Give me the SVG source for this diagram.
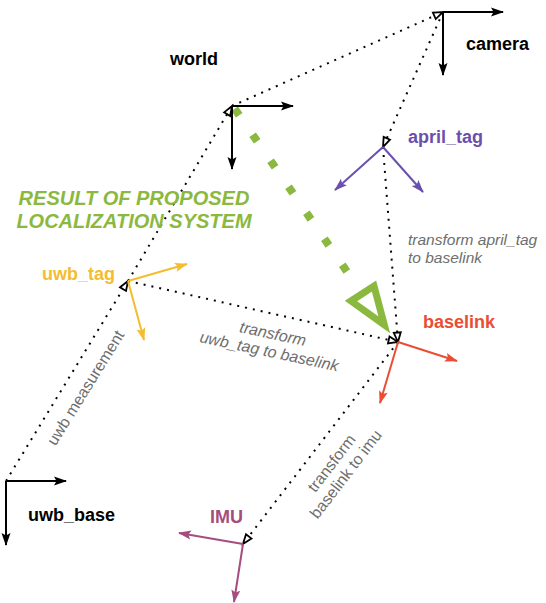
<svg xmlns="http://www.w3.org/2000/svg" width="546" height="603" viewBox="0 0 546 603">
<style>
text{font-family:"Liberation Sans",Arial,sans-serif}
.lbl{font-size:18px;font-weight:bold}
.note{font-size:15.5px;fill:#6e6e6e}
.rot{font-size:16px}
.it{font-style:italic}
.tf{stroke:#000;stroke-width:2;stroke-dasharray:2 6;fill:none;marker-end:url(#open)}
.ax{stroke-width:2;fill:none}
</style>
<defs>
<marker id="open" markerUnits="userSpaceOnUse" markerWidth="14" markerHeight="12" refX="10.5" refY="4.5" orient="auto" overflow="visible">
<path d="M1,1 L10.5,4.5 L1,8 z" fill="#fff" stroke="#000" stroke-width="1.8"/>
</marker>
<marker id="aK" markerUnits="userSpaceOnUse" markerWidth="14" markerHeight="10" refX="12" refY="4.5" orient="auto" overflow="visible"><path d="M0,0 L13,4.5 L0,9 L2.5,4.5 z" fill="#000"/></marker>
<marker id="aP" markerUnits="userSpaceOnUse" markerWidth="14" markerHeight="10" refX="12" refY="4.5" orient="auto" overflow="visible"><path d="M0,0 L13,4.5 L0,9 L2.5,4.5 z" fill="#6a50ae"/></marker>
<marker id="aR" markerUnits="userSpaceOnUse" markerWidth="14" markerHeight="10" refX="12" refY="4.5" orient="auto" overflow="visible"><path d="M0,0 L13,4.5 L0,9 L2.5,4.5 z" fill="#e94e34"/></marker>
<marker id="aY" markerUnits="userSpaceOnUse" markerWidth="14" markerHeight="10" refX="12" refY="4.5" orient="auto" overflow="visible"><path d="M0,0 L13,4.5 L0,9 L2.5,4.5 z" fill="#f4bc2f"/></marker>
<marker id="aM" markerUnits="userSpaceOnUse" markerWidth="14" markerHeight="10" refX="12" refY="4.5" orient="auto" overflow="visible"><path d="M0,0 L13,4.5 L0,9 L2.5,4.5 z" fill="#a64d7f"/></marker>
</defs>
<rect width="546" height="603" fill="#fff"/>

<g id="connectors">
<line class="tf" x1="232" y1="106" x2="443" y2="12"/>
<line class="tf" x1="128" y1="281" x2="232" y2="106"/>
<line class="tf" x1="443" y1="12" x2="383" y2="147"/>
<line class="tf" x1="383" y1="147" x2="398" y2="342"/>
<line class="tf" x1="128" y1="281" x2="398" y2="342"/>
<line class="tf" x1="398" y1="342" x2="243" y2="544"/>
<line class="tf" x1="6" y1="481" x2="128" y2="281"/>
<path d="M234.7,108.7 L350,276" stroke="#8bb940" stroke-width="8" stroke-dasharray="8 23.6" fill="none"/>
<path d="M384.3,324.8 L351,301 L374,286 z" stroke="#8bb940" stroke-width="7" fill="none" stroke-linejoin="miter"/>
</g>

<g id="world">
<line class="ax" stroke="#000" x1="232" y1="106" x2="293" y2="106" marker-end="url(#aK)"/>
<line class="ax" stroke="#000" x1="232" y1="106" x2="232" y2="169" marker-end="url(#aK)"/>
<text class="lbl" x="170" y="65">world</text>
</g>

<g id="camera">
<line class="ax" stroke="#000" x1="443" y1="12" x2="503" y2="12" marker-end="url(#aK)"/>
<line class="ax" stroke="#000" x1="443" y1="12" x2="443" y2="75" marker-end="url(#aK)"/>
<text class="lbl" x="466" y="50">camera</text>
</g>

<g id="april_tag">
<line class="ax" stroke="#6a50ae" x1="383" y1="147" x2="335" y2="190" marker-end="url(#aP)"/>
<line class="ax" stroke="#6a50ae" x1="383" y1="147" x2="423" y2="192" marker-end="url(#aP)"/>
<text class="lbl" x="408" y="143" fill="#6a50ae">april_tag</text>
</g>

<g id="baselink">
<line class="ax" stroke="#e94e34" x1="398" y1="342" x2="457" y2="361" marker-end="url(#aR)"/>
<line class="ax" stroke="#e94e34" x1="398" y1="342" x2="380" y2="403" marker-end="url(#aR)"/>
<text class="lbl" x="423" y="328" fill="#e94e34">baselink</text>
</g>

<g id="uwb_tag">
<line class="ax" stroke="#f4bc2f" x1="128" y1="281" x2="187" y2="264" marker-end="url(#aY)"/>
<line class="ax" stroke="#f4bc2f" x1="128" y1="281" x2="144" y2="340" marker-end="url(#aY)"/>
<text class="lbl" x="42" y="280" fill="#f4bc2f">uwb_tag</text>
</g>

<g id="uwb_base">
<line class="ax" stroke="#000" x1="6" y1="481" x2="66" y2="481" marker-end="url(#aK)"/>
<line class="ax" stroke="#000" x1="6" y1="481" x2="6" y2="545" marker-end="url(#aK)"/>
<text class="lbl" x="28" y="521">uwb_base</text>
</g>

<g id="imu">
<line class="ax" stroke="#a64d7f" x1="243" y1="544" x2="179" y2="533" marker-end="url(#aM)"/>
<line class="ax" stroke="#a64d7f" x1="243" y1="544" x2="234" y2="602" marker-end="url(#aM)"/>
<text class="lbl" x="210" y="523" fill="#a64d7f">IMU</text>
</g>

<g id="result_label">
<text x="134" y="205" text-anchor="middle" font-size="20" font-weight="bold" font-style="italic" fill="#8bb940">RESULT OF PROPOSED</text>
<text x="134" y="228" text-anchor="middle" font-size="20" font-weight="bold" font-style="italic" fill="#8bb940">LOCALIZATION SYSTEM</text>
</g>

<g id="labels">
<text class="note it" x="408" y="245">transform april_tag</text>
<text class="note it" x="408" y="263">to baselink</text>
<g transform="translate(271,343) rotate(12)">
<text class="note it rot" x="0" y="-4" text-anchor="middle">transform</text>
<text class="note it rot" x="0" y="14" text-anchor="middle">uwb_tag to baselink</text>
</g>
<g transform="translate(86,388) rotate(-58.2)">
<text class="note rot" x="0" y="5" text-anchor="middle">uwb measurement</text>
</g>
<g transform="translate(339,469) rotate(-52.5)">
<text class="note rot" x="0" y="-4" text-anchor="middle">transform</text>
<text class="note rot" x="0" y="14" text-anchor="middle">baselink to imu</text>
</g>
</g>
</svg>
